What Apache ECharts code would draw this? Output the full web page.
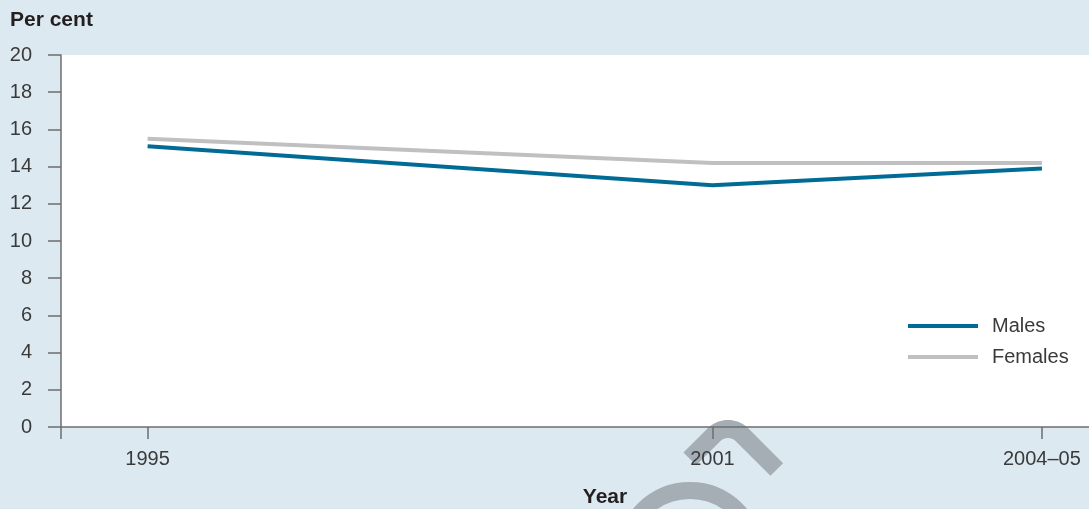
<!DOCTYPE html>
<html>
<head>
<meta charset="utf-8">
<script src="https://cdn.jsdelivr.net/npm/echarts@6/dist/echarts.min.js"></script>
<style>
html,body{margin:0;padding:0;background:#dde9f1;}
#chart{width:1089px;height:509px;}
</style>
</head>
<body>
<div id="chart"></div>
<script>
// Data
const categories = ['1995', '2001', '2004–05'];
const yearPositions = [1995, 2001, 2004.5];
const males = [15.1, 13.0, 13.9];
const females = [15.5, 14.2, 14.2];
const yTicks = [0, 2, 4, 6, 8, 10, 12, 14, 16, 18, 20];

const chart = echarts.init(document.getElementById('chart'));
const font = '"Liberation Sans", Arial, Helvetica, sans-serif';
const xMin = 1994.08, xMax = 2005.0;
const axisColor = '#6e6e6e';
const wmColor = '#a6aeb5';

function archPoints(cx, cy, r, a0, a1, leg0, leg1) {
  const rad = d => d * Math.PI / 180;
  const pts = [];
  const p0 = [cx + r * Math.cos(rad(a0)), cy - r * Math.sin(rad(a0))];
  const t0 = [-Math.sin(rad(a0)), -Math.cos(rad(a0))];
  pts.push([p0[0] + t0[0] * leg0, p0[1] + t0[1] * leg0]);
  const n = 20;
  for (let i = 0; i <= n; i++) {
    const a = a0 + (a1 - a0) * i / n;
    pts.push([cx + r * Math.cos(rad(a)), cy - r * Math.sin(rad(a))]);
  }
  const p1 = pts[pts.length - 1];
  const t1 = [Math.sin(rad(a1)), Math.cos(rad(a1))];
  pts.push([p1[0] + t1[0] * leg1, p1[1] + t1[1] * leg1]);
  return pts;
}

const option = {
  backgroundColor: '#dde9f1',
  animation: false,
  textStyle: { fontFamily: font },
  grid: {
    left: 61, top: 55, right: 0, bottom: 82,
    show: true, backgroundColor: '#ffffff', borderWidth: 0, z: 0
  },
  legend: {
    data: ['Males', 'Females'],
    orient: 'vertical',
    left: 908, top: 316,
    padding: 0,
    itemWidth: 70, itemHeight: 4, itemGap: 11,
    icon: 'rect',
    textStyle: { fontSize: 20, color: '#3a3a3a', fontFamily: font, padding: [0, 0, 0, 9] }
  },
  xAxis: {
    type: 'value',
    min: xMin, max: xMax,
    z: 6,
    splitLine: { show: false },
    axisLine: { show: true, lineStyle: { color: axisColor, width: 1.5 } },
    axisTick: { show: true, length: 12, customValues: [xMin].concat(yearPositions), lineStyle: { color: axisColor, width: 1.5 } },
    axisLabel: {
      customValues: yearPositions,
      formatter: v => { const i = yearPositions.indexOf(v); return i >= 0 ? categories[i] : ''; },
      fontSize: 20, color: '#3a3a3a', margin: 22, fontFamily: font
    }
  },
  yAxis: {
    type: 'value',
    min: yTicks[0], max: yTicks[yTicks.length - 1], interval: 2,
    z: 6,
    splitLine: { show: false },
    axisLine: { show: true, lineStyle: { color: axisColor, width: 1.5 } },
    axisTick: { show: true, length: 13, lineStyle: { color: axisColor, width: 1.5 } },
    axisLabel: { fontSize: 20, color: '#3a3a3a', margin: 29, fontFamily: font }
  },
  series: [
    {
      name: 'Males', type: 'line', z: 4,
      color: '#006b95',
      showSymbol: false, symbol: 'none',
      lineStyle: { width: 4, color: '#006b95' },
      data: yearPositions.map((x, i) => [x, males[i]])
    },
    {
      name: 'Females', type: 'line', z: 3,
      color: '#c0c0c3',
      showSymbol: false, symbol: 'none',
      lineStyle: { width: 4, color: '#c0c0c3' },
      data: yearPositions.map((x, i) => [x, females[i]])
    }
  ],
  graphic: [
    {
      type: 'text', left: 10, top: 10, z: 10,
      style: { text: 'Per cent', fontSize: 21, fontWeight: 'bold', fontFamily: font, fill: '#231f20' }
    },
    {
      type: 'text', x: 605, y: 497, z: 10,
      style: { text: 'Year', fontSize: 21, fontWeight: 'bold', fontFamily: font, fill: '#231f20', align: 'center', verticalAlign: 'middle' }
    },
    {
      type: 'circle', z: 2, silent: true,
      shape: { cx: 690, cy: 556, r: 65.5 },
      style: { fill: null, stroke: wmColor, lineWidth: 17 }
    },
    {
      type: 'polyline', z: 2, silent: true,
      shape: { points: archPoints(728, 449, 20, 135, 45, 34, 49) },
      style: { fill: null, stroke: wmColor, lineWidth: 18, lineCap: 'butt', lineJoin: 'round' }
    }
  ]
};
chart.setOption(option);
</script>
</body>
</html>
